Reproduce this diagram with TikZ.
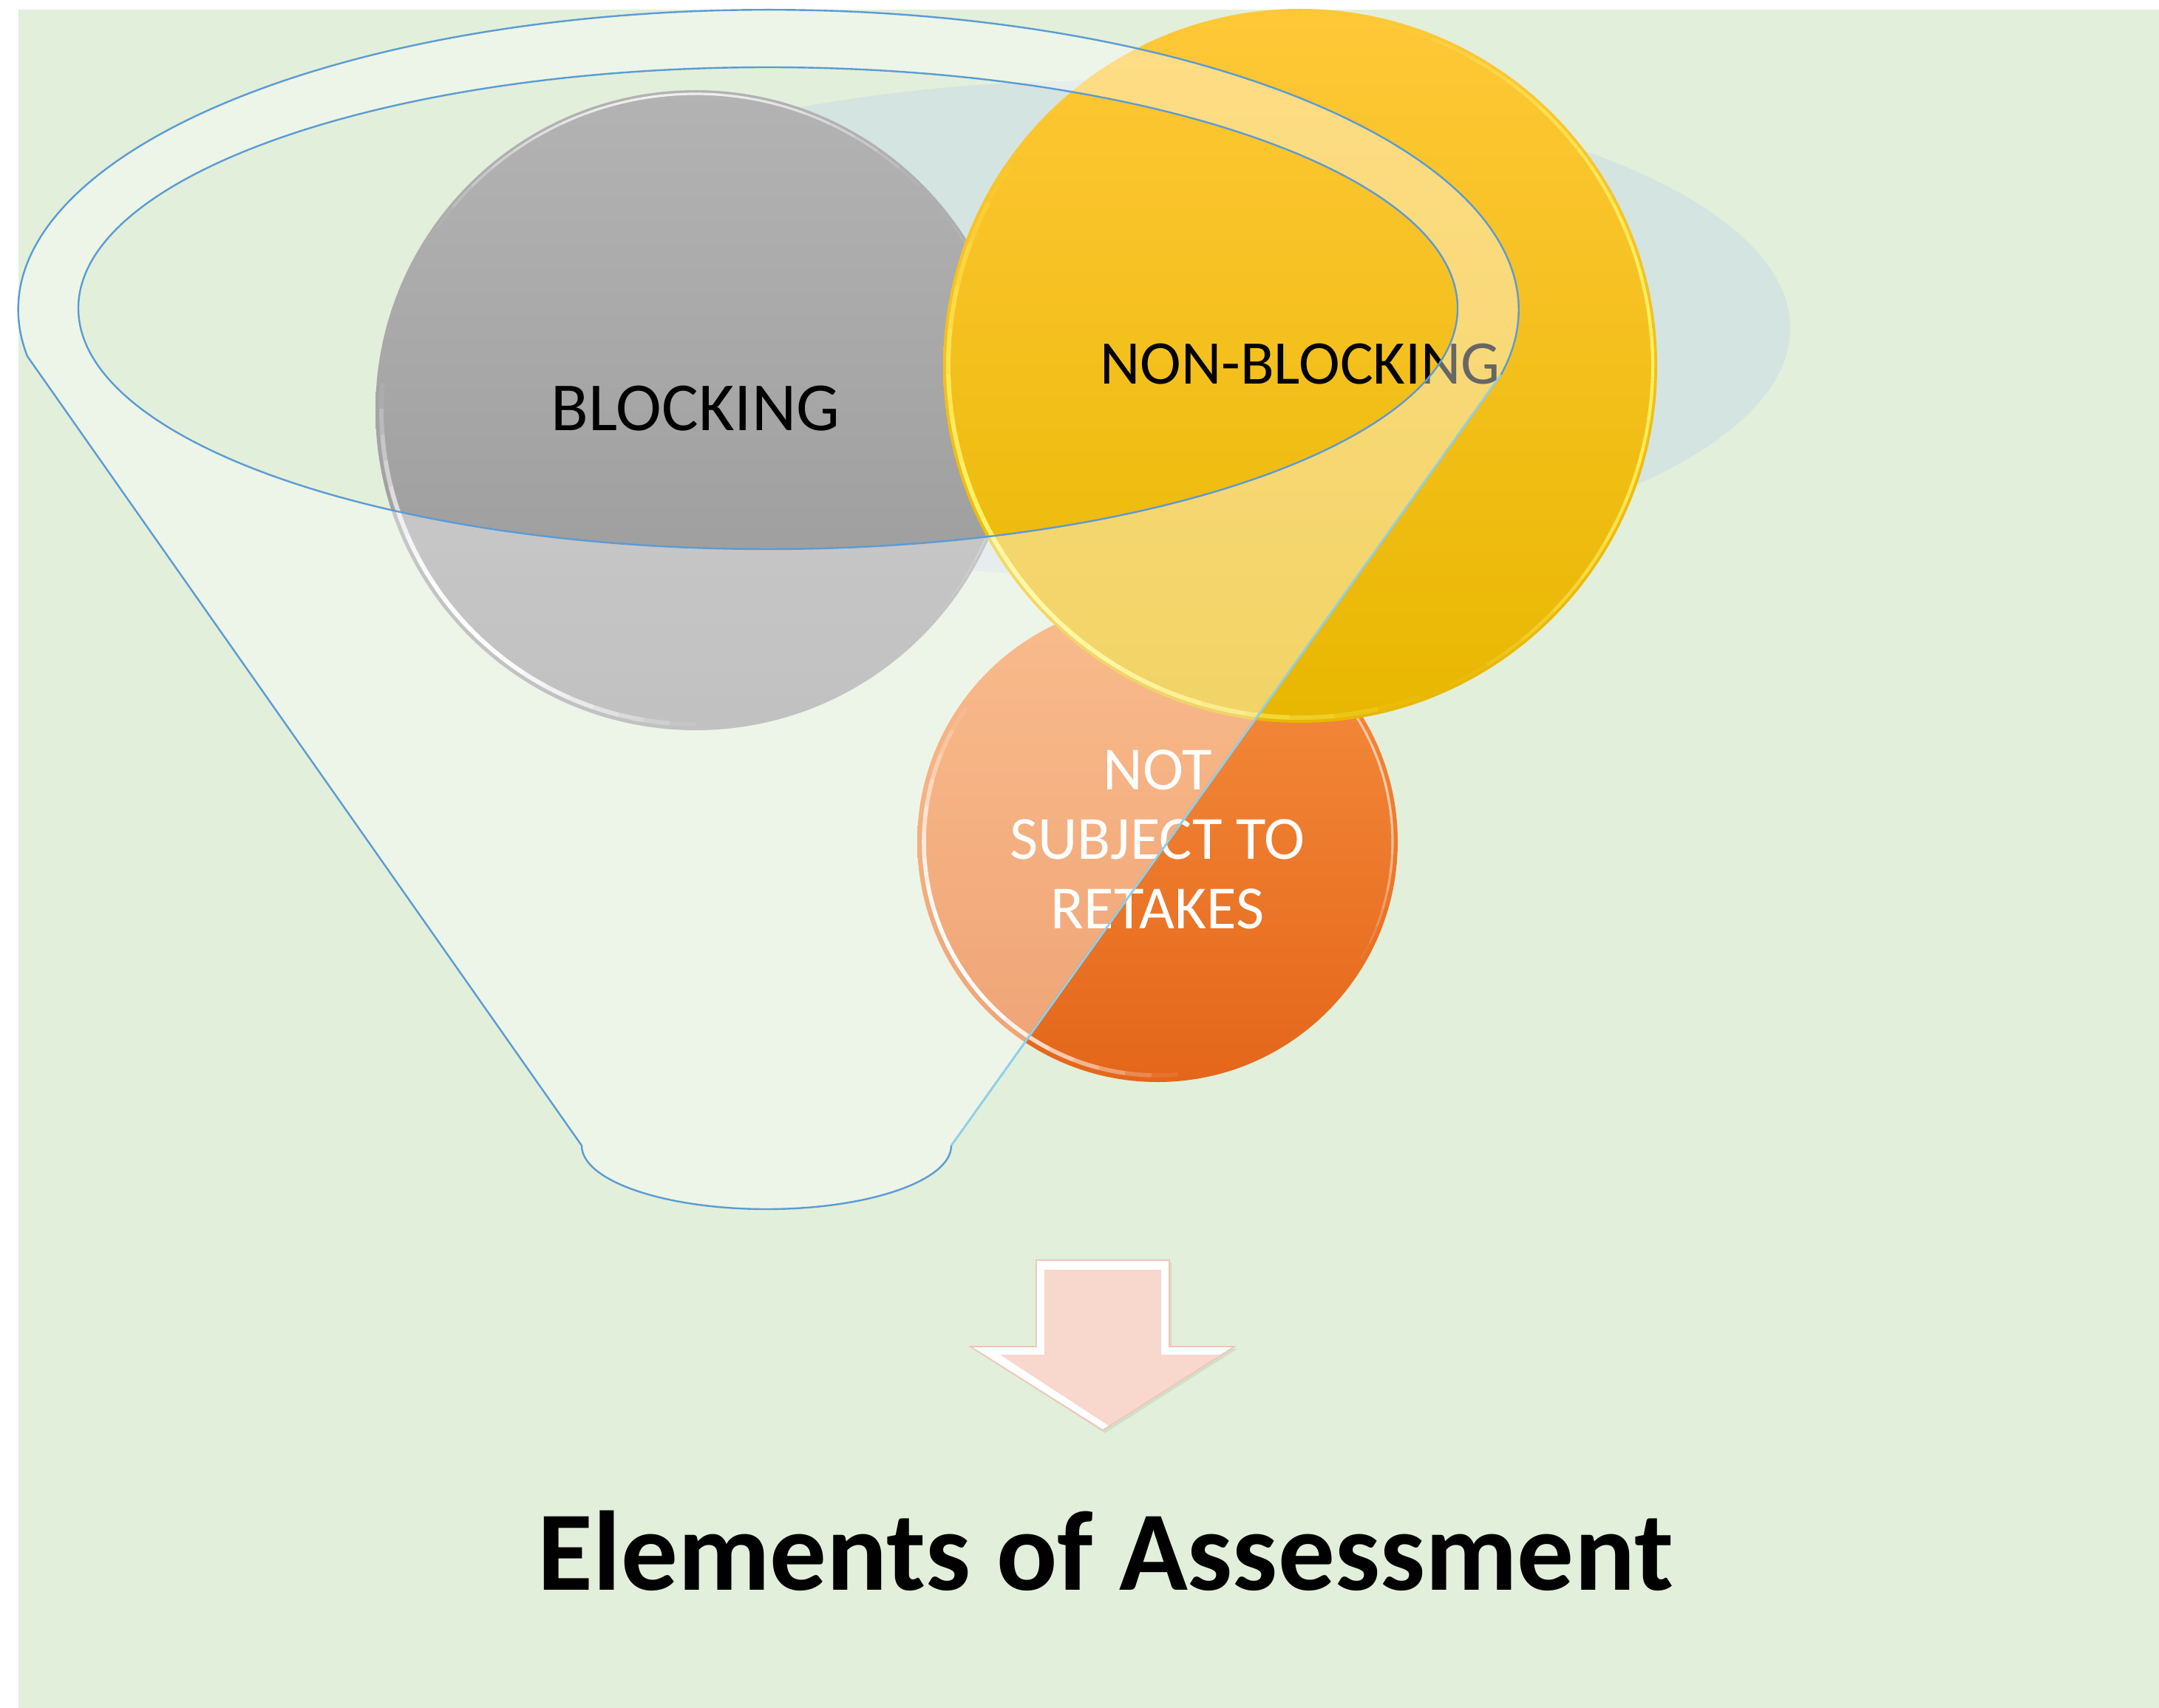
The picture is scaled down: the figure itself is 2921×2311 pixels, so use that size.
\documentclass[tikz,border=0pt]{standalone}
\usepackage{fontspec}
\setmainfont{Carlito}
\definecolor{bggreen}{HTML}{E2EFDA}
\definecolor{bluishfill}{HTML}{D4E4E0}
\definecolor{gtop}{HTML}{B3B3B3}
\definecolor{gbot}{HTML}{989898}
\definecolor{ytop}{HTML}{FFC838}
\definecolor{ymid}{HTML}{FFC500}
\definecolor{ybot}{HTML}{E8B700}
\definecolor{otop}{HTML}{F68F40}
\definecolor{obot}{HTML}{E4661A}
\definecolor{funnelblue}{HTML}{5B9BD5}
\definecolor{funnelcyan}{HTML}{8DD3EE}
\definecolor{arrowpink}{HTML}{F8D7CC}
\definecolor{arrowedge}{HTML}{F2C4B6}
\definecolor{yrim}{HTML}{FFF56A}
% #1 centre, #2 radius, #3 start angle, #4 end angle, #5 colour, #6 width, #7 max opacity
\newcommand\rimglow[7]{%
  \foreach \i in {0,...,19}{%
    \pgfmathsetmacro\ta{#3+\i*(#4-#3)/20}%
    \pgfmathsetmacro\tb{#3+(\i+1)*(#4-#3)/20}%
    \pgfmathsetmacro\op{#7*sin(180*(\i+0.5)/20)}%
    \draw[#5, line width=#6, opacity=\op] (#1) ++(\ta:#2) arc[start angle=\ta, end angle=\tb, radius=#2];
  }%
}
\begin{document}
\begin{tikzpicture}[x=0.25pt,y=-0.25pt,
  rimline/.style={draw=funnelblue, line width=0.6pt},
  labeltext/.style={inner sep=0pt, anchor=base}]
\useasboundingbox (0,0) rectangle (2921,2311);
\fill[white] (0,0) rectangle (2921,2311);
\fill[bggreen] (25,13) rectangle (2921,2311);

\coordinate (gC) at (941,555);
\coordinate (yC) at (1759,495);
\coordinate (oC) at (1566,1139);

% bluish ellipse behind
\fill[bluishfill] (1500,444) ellipse[x radius=922, y radius=335];

% gray circle
\shade[top color=gtop, bottom color=gbot] (gC) circle[radius=433];
\rimglow{gC}{425}{90}{185}{white}{1.5pt}{1}
\rimglow{gC}{428}{215}{315}{white}{0.8pt}{0.8}
\rimglow{gC}{429}{-40}{40}{white}{0.6pt}{0.4}

% orange circle
\shade[top color=otop, bottom color=obot] (oC) circle[radius=325];
\rimglow{oC}{316}{85}{215}{white}{1.4pt}{1}
\rimglow{oC}{318}{-60}{30}{white}{0.8pt}{0.6}

% yellow circle
\shade[top color=ytop, middle color=ymid, bottom color=ybot] (yC) circle[radius=483];
\rimglow{yC}{476}{70}{215}{yrim}{1.5pt}{1}
\rimglow{yC}{477}{-75}{65}{yrim}{1.1pt}{0.9}

% texts (under the funnel)
\node[labeltext, font=\fontsize{23.3}{28}\selectfont] (blocking) at (941,583) {BLOCKING};
\node[labeltext, font=\fontsize{21}{25}\selectfont] (nonblocking) at (1759,520) {NON-BLOCKING};
\node[inner sep=0pt, align=center, text=white, font=\fontsize{20.75}{23.5}\selectfont] (notsubject) at (1566,1136) {NOT\\SUBJECT TO\\RETAKES};

% funnel
\path[fill=white, fill opacity=0.4, even odd rule]
  (37,482) arc[start angle=171.1, end angle=372.5, x radius=1015, y radius=406]
  -- (1287,1550) arc[start angle=0, end angle=180, x radius=250, y radius=86] -- cycle
  (1039,417) ellipse[x radius=933, y radius=326];
\draw[rimline]
  (37,482) arc[start angle=171.1, end angle=372.5, x radius=1015, y radius=406]
  coordinate (rtop)
  -- (1287,1550) coordinate (rbot)
  arc[start angle=0, end angle=180, x radius=250, y radius=86] -- cycle;
\draw[rimline] (1039,417) ellipse[x radius=933, y radius=326];
\draw[draw=funnelcyan, line width=0.6pt] (rtop) -- (rbot);

% arrow
\fill[black, opacity=0.07] (1405,1708) -- (1585,1708) -- (1585,1825) -- (1674,1825) -- (1495,1939) -- (1316,1825) -- (1405,1825) -- cycle;
\fill[white] (1402,1705) -- (1582,1705) -- (1582,1822) -- (1670,1822) -- (1492,1935) -- (1313,1822) -- (1402,1822) -- cycle;
\fill[arrowpink] (1413,1718) -- (1571,1718) -- (1571,1833) -- (1652,1833) -- (1500,1929) -- (1353,1833) -- (1413,1833) -- cycle;
\draw[arrowedge, line width=0.4pt, line join=miter] (1402,1705) -- (1582,1705) -- (1582,1822) -- (1670,1822) -- (1492,1935) -- (1313,1822) -- (1402,1822) -- cycle;

% title
\node[labeltext, font=\bfseries\fontsize{38.3}{46}\selectfont] (title) at (1496,2151) {Elements of Assessment};
\end{tikzpicture}
\end{document}
